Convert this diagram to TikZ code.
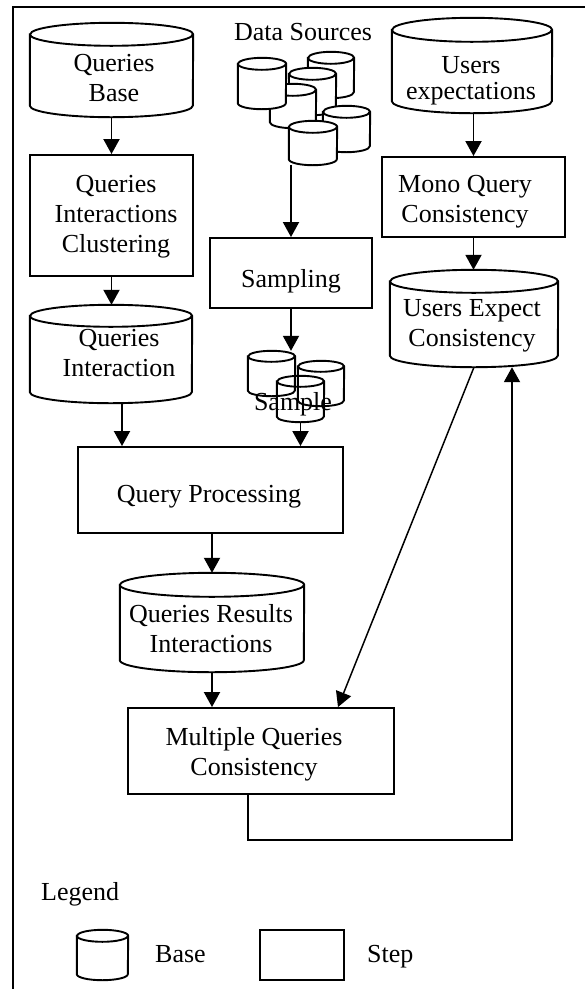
\documentclass[tikz,border=0pt]{standalone}
\usepackage{fontspec}
\setmainfont{Liberation Serif}
\usetikzlibrary{arrows.meta}

% base (cylinder): [style] name, x, y, width, height, ellipse radius
\newcommand{\dbase}[7][]{%
  \node[basebox, minimum width=#5pt, minimum height=#6pt] (#2) at (#3,#4) {};
  \draw[cylline, #1] ([yshift=-#7pt]#2.north west) -- ([yshift=#7pt]#2.south west)
    arc[start angle=180, end angle=360, x radius=#5pt/2, y radius=#7pt]
    -- ([yshift=-#7pt]#2.north east)
    arc[start angle=0, end angle=180, x radius=#5pt/2, y radius=#7pt] -- cycle;
  \draw[cylline, fill=none] ([yshift=-#7pt]#2.north west)
    arc[start angle=180, end angle=360, x radius=#5pt/2, y radius=#7pt];
}

\begin{document}
\begin{tikzpicture}[
    x=1pt, y=-1pt,
    stepbox/.style={rectangle, draw, line width=1.9pt, inner sep=0pt},
    basebox/.style={rectangle, inner sep=0pt},
    cylline/.style={line width=1.9pt, fill=white},
    txt/.style={align=center, inner sep=0pt, font=\fontsize{26}{30}\selectfont,
                execute at begin node=\strut, execute at end node=\strut},
    flow/.style={line width=1.9pt, -{Triangle[length=15pt, width=16pt]}},
    frameline/.style={line width=1.9pt}
]
\useasboundingbox (0,0) rectangle (585,989);

% frame
\draw[frameline] (13,1000) |- (600,7);

% left column
\dbase[]{qbase}{111.5}{70}{163}{94}{11.5}
\node[txt] (qbase-t) at (114,82) {Queries\\Base};
\node[stepbox, minimum width=163pt, minimum height=121pt] (qclust) at (111.5,215.5) {};
\node[txt] (qclust-t) at (116,218) {Queries\\Interactions\\Clustering};
\dbase[]{qinter}{111}{354}{162}{98}{11}
\node[txt] (qinter-t) at (119,357) {Queries\\Interaction};

% data sources and sample
\node[txt] (dsrc-t) at (303,34) {Data Sources};
\dbase[]{ds2}{331}{75}{46}{46}{6}
\dbase[]{ds3}{312.5}{91.5}{47}{47}{6}
\dbase[]{ds4}{293}{106}{46}{44}{6}
\dbase[]{ds1}{262}{83.5}{48}{51}{6}
\dbase[]{ds5}{346.5}{129}{47}{46}{6}
\dbase[]{ds6}{313}{143}{48}{44}{6}
\node[stepbox, minimum width=162pt, minimum height=70pt] (samp) at (291,273) {};
\node[txt] (samp-t) at (291,281) {Sampling};
\dbase[fill=none]{smpa}{271.5}{373.5}{47}{45}{5.5}
\dbase[fill=none]{smpb}{321}{383.5}{46}{45}{5.5}
\dbase[fill=none]{smpc}{300.5}{399}{47}{46}{5.5}
\node[txt] (smp-t) at (293,404) {Sample};

% right column
\dbase[]{uexp}{472}{65.5}{160}{95}{12}
\node[txt] (uexp-t) at (471,82) {Users\\[-4pt]expectations};
\node[stepbox, minimum width=183pt, minimum height=80pt] (mono) at (473.5,197) {};
\node[txt] (mono-t) at (465,203) {Mono Query\\Consistency};
\dbase[]{uec}{474}{318.5}{168}{97}{11.5}
\node[txt] (uec-t) at (472,327) {Users Expect\\Consistency};

% lower part
\node[stepbox, minimum width=265pt, minimum height=86pt] (qp) at (210.5,490) {};
\node[txt] (qp-t) at (209,496) {Query Processing};
\dbase[]{qri}{212}{622.5}{184}{99}{12}
\node[txt] (qri-t) at (211,633) {Queries Results\\Interactions};
\node[stepbox, minimum width=266pt, minimum height=86pt] (multi) at (261,751) {};
\node[txt] (multi-t) at (254,756) {Multiple Queries\\Consistency};

% connections
\coordinate (qi-out) at ([xshift=11pt]qinter.south);
\coordinate (back) at (512,840);
\draw[flow] (qbase.south) -- (qbase.south |- qclust.north);
\draw[flow] (qclust.south) -- (qclust.south |- qinter.north);
\draw[flow] (qi-out) -- (qi-out |- qp.north);
\draw[flow] (samp.north |- ds6.south) -- (samp.north);
\draw[flow] (samp.south) -- (samp.south |- smpa.north);
\draw[flow] (smpc.south) -- (smpc.south |- qp.north);
\draw[flow] (mono.north |- uexp.south) -- (mono.north);
\draw[flow] (mono.south) -- (mono.south |- uec.north);
\draw[flow] (qri.north |- qp.south) -- (qri.north);
\draw[flow] (qri.south) -- (qri.south |- multi.north);
\draw[flow, line width=1.5pt] (uec.south) -- ([xshift=77pt]multi.north);
\draw[flow] ([xshift=-13pt]multi.south) |- (back) -- (back |- uec.south);

% legend
\node[txt, anchor=west] (leg-t) at (41,894) {Legend};
\dbase[]{legbase}{102.5}{955}{51}{50}{6}
\node[txt, anchor=west] (legbase-t) at (155,956) {Base};
\node[stepbox, minimum width=84pt, minimum height=50pt] (legstep) at (302,955) {};
\node[txt, anchor=west] (legstep-t) at (367,956) {Step};

\end{tikzpicture}
\end{document}
